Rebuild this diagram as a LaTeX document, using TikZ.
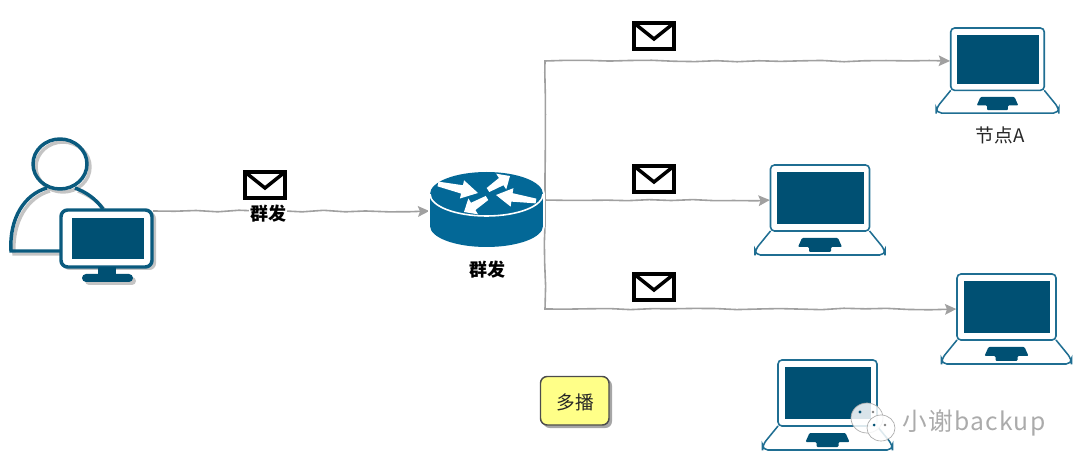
\documentclass[tikz,border=0pt]{standalone}
\usepackage{fontspec}
\setmainfont{Liberation Sans}
\newfontfamily\cjk{Noto Sans CJK SC}
\usetikzlibrary{arrows.meta,decorations.pathmorphing,calc}
\definecolor{scr}{HTML}{005073}
\definecolor{edgeblue}{HTML}{1F6E92}
\definecolor{rout}{HTML}{036897}
\definecolor{wire}{HTML}{A0A0A0}
\definecolor{softgrey}{HTML}{C4C4C4}
\definecolor{wm}{HTML}{ABABAB}
\definecolor{notefill}{HTML}{FFFF88}
\definecolor{hostblue}{HTML}{0A5A7E}
\tikzset{
  wirearrow/.style={draw=wire,line width=1.2pt,-{Stealth[length=8.5pt,width=8pt,inset=1.5pt]},shorten >=0.5pt,
    decorate,decoration={random steps,segment length=16pt,amplitude=0.65pt}},
  hitbox/.style={inner sep=0pt,outer sep=0pt,minimum height=1pt},
  lab/.style={font=\cjk\bfseries\fontsize{13.5}{15}\selectfont,text=black,inner sep=0.5pt},
  plain/.style={font=\cjk\fontsize{14}{16}\selectfont,text=black!85,inner sep=0pt},
  laptop/.pic={
    \draw[edgeblue,line width=1.15pt,fill=white,rounded corners=4pt] (-49.5,66) -- (-65,85) -- (-65,90) -- (65,90) -- (65,85) -- (49.5,66);
    \draw[edgeblue,line width=1.2pt,fill=white,rounded corners=3pt] (-49.5,0) rectangle (49.5,66);
    \fill[scr] (-43,7) rectangle (43.5,59);
    \fill[scr,rounded corners=0.8pt] (-18,73) -- (18,73) -- (22,82) -- (11,82) -- (11,87) -- (-11,87) -- (-11,82) -- (-22,82) -- cycle;
  },
  mailicon/.pic={
    \draw[black,line width=2.6pt,fill=white] (-20,-13) rectangle (20,13);
    \draw[black,line width=2.6pt] (-20,-13) -- (0,3) -- (20,-13);
  }
}
\newcommand{\blockarrow}[4]{%
  \coordinate (ta) at (#1,#2); \coordinate (tb) at (#3,#4);
  \coordinate (tn) at ($(ta)!0.6!(tb)$);
  \fill[white] ($(ta)!1.8pt!90:(tb)$) -- ($(tn)!3.2pt!90:(tb)$) -- ($(tn)!7pt!90:(tb)$) -- (tb)
    -- ($(tn)!7pt!-90:(tb)$) -- ($(tn)!3.2pt!-90:(tb)$) -- ($(ta)!1.8pt!-90:(tb)$) -- cycle;}
\begin{document}
\begin{tikzpicture}[x=0.75pt,y=-0.75pt]
\useasboundingbox (0,0) rectangle (1080,473);
\pgfmathsetseed{11}
% anchors
\node[hitbox,minimum width=69.75pt] (host) at (106.5,211) {};
\node[hitbox,minimum width=84.75pt] (router) at (486.5,209) {};
\node[hitbox,minimum width=70.2pt] (lapA) at (997.5,61) {};
\node[hitbox,minimum width=74.25pt] (lapB) at (820,200) {};
\node[hitbox,minimum width=74.25pt] (lapC) at (1006.5,309) {};
\coordinate (bus) at (545,200);
% connectors
\draw[wirearrow] (bus) |- (lapA.west);
\draw[wirearrow] (bus) |- (lapC.west);
\draw[wirearrow] (router.east |- lapB.west) -- (lapB.west);
\draw[wirearrow] (host.east) -- (router.west |- host.east);
% person shadow
\begin{scope}[shift={(3,3)},draw=softgrey,line width=2.6pt]
  \draw (60,164) ellipse [x radius=27,y radius=25];
  \draw (60,251) -- (11,251) .. controls (9,218) and (25,194) .. (47,188);
  \draw (75,188) .. controls (86,192) and (96,199) .. (103,209);
\end{scope}
% person
\begin{scope}[draw=hostblue,line width=2.6pt]
  \draw (60,164) ellipse [x radius=27,y radius=25];
  \draw (60,251) -- (11,251) .. controls (9,218) and (25,194) .. (47,188);
  \draw (75,188) .. controls (86,192) and (96,199) .. (103,209);
\end{scope}
% monitor
\fill[softgrey,rounded corners=5pt] (63,212) rectangle (156,270);
\fill[softgrey,rounded corners=3pt] (85,277) rectangle (136,285);
\draw[hostblue,line width=2.6pt,fill=white,rounded corners=5pt] (61,210) rectangle (152,267);
\fill[scr] (72,218) rectangle (144,259);
\fill[scr] (98,267) rectangle (116,275);
\fill[scr,rounded corners=3pt] (82,274) rectangle (133,282);
% router
\fill[white] (486.5,226) ellipse [x radius=58.5,y radius=23];
\fill[white] (428,194) rectangle (545,226);
\fill[white] (486.5,194) ellipse [x radius=58.5,y radius=24];
\fill[rout] (486.5,226) ellipse [x radius=56.5,y radius=21];
\fill[rout] (430,194) rectangle (543,226);
\fill[rout] (486.5,194) ellipse [x radius=56.5,y radius=22];
\draw[white,line width=1.2pt] (430,194) arc[start angle=180,end angle=360,x radius=42.4pt,y radius=16.5pt];
\blockarrow{438}{184}{478}{193}
\blockarrow{488}{190}{510}{176}
\blockarrow{536}{201}{496}{195}
\blockarrow{487}{198}{464}{212}
% laptops
\pic[scale=0.945] at (997.5,28) {laptop};
\pic at (820,165) {laptop};
\pic at (1006.5,274) {laptop};
\pic at (827.5,360) {laptop};
% mail
\pic at (265,185) {mailicon};
\pic at (654,36) {mailicon};
\pic at (654,179) {mailicon};
\pic at (654,287) {mailicon};
% labels
\node[lab,fill=white] (l1) at (268,214) {群发};
\node[lab] (l2) at (487,270) {群发};
\node[plain] (l3) at (1000,135) {节点A};
% note
\fill[black!35,rounded corners=5pt] (543,379) rectangle (612,428);
\draw[black!70,line width=1.1pt,fill=notefill,rounded corners=5pt] (540.5,376.5) rectangle (609,425);
\node[plain] (note) at (575,402) {多播};
% watermark
\begin{scope}[draw=wm,line width=0.5pt]
  \draw[fill=white,fill opacity=0.85] (867,418) ellipse [x radius=16,y radius=15];
  \draw[fill=white,fill opacity=0.85] (881,428) ellipse [x radius=14,y radius=13];
  \fill[scr] (860,412) circle [radius=1.7];
  \fill[scr] (874,425) circle [radius=1.5];
  \fill[gray] (885,425) circle [radius=1.3];
  \fill[gray] (873,412) circle [radius=1.3];
\end{scope}
\node[inner sep=0pt,text=wm,font=\cjk\fontsize{18.5}{20}\selectfont\addfontfeatures{LetterSpace=5}] (mark) at (974,423) {小谢backup};
\end{tikzpicture}
\end{document}
